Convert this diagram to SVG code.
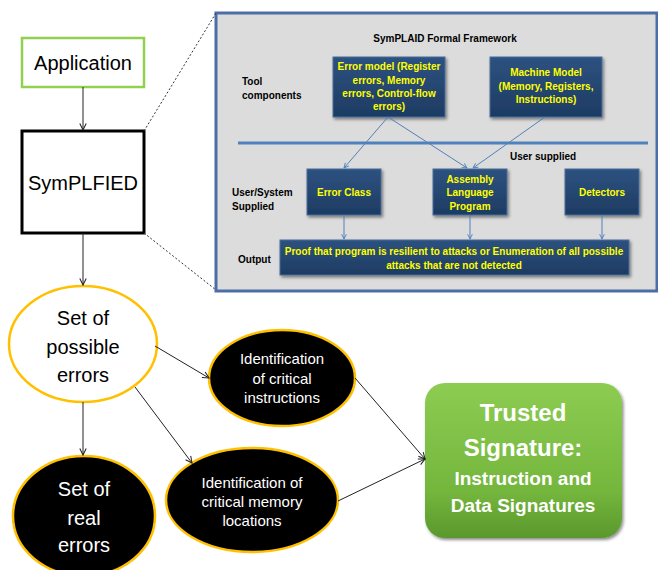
<svg xmlns="http://www.w3.org/2000/svg" width="658" height="570" viewBox="0 0 658 570">
<defs>
<style>
.pt{font-family:"Liberation Sans",Arial,sans-serif;font-weight:bold;font-size:10px;fill:#ffff00;text-anchor:middle}
.lb{font-family:"Liberation Sans",Arial,sans-serif;font-weight:bold;font-size:10px;fill:#000}
.big{font-family:"Liberation Sans",Arial,sans-serif;font-size:20px;text-anchor:middle}
.mid{font-family:"Liberation Sans",Arial,sans-serif;font-size:15px;fill:#fff;text-anchor:middle}
.tr{font-family:"Liberation Sans",Arial,sans-serif;font-weight:bold;fill:#fff;text-anchor:middle}
.box{fill:url(#navy);stroke:#4a6d99;stroke-width:1;filter:url(#sh)}
.bl{stroke:#4f81bd;stroke-width:1;fill:none;marker-end:url(#ab)}
.k{stroke:#222;stroke-width:1;fill:none;marker-end:url(#ak)}
</style>
<linearGradient id="navy" x1="0" y1="0" x2="0" y2="1">
<stop offset="0" stop-color="#2d5280"/><stop offset="1" stop-color="#1d3b62"/>
</linearGradient>
<linearGradient id="grn" x1="0" y1="0" x2="0" y2="1">
<stop offset="0" stop-color="#8dcc52"/><stop offset="0.7" stop-color="#74b63d"/><stop offset="1" stop-color="#5a982c"/>
</linearGradient>
<filter id="sh" x="-10%" y="-10%" width="130%" height="140%">
<feDropShadow dx="1.5" dy="2" stdDeviation="1.5" flood-color="#000" flood-opacity="0.45"/>
</filter>
<marker id="ab" viewBox="0 0 10 10" refX="9" refY="5" markerWidth="6" markerHeight="6" orient="auto" markerUnits="userSpaceOnUse">
<path d="M1,1 L9,5 L1,9" fill="none" stroke="#4f81bd" stroke-width="1.5"/>
</marker>
<marker id="ak" viewBox="0 0 10 10" refX="9" refY="5" markerWidth="8" markerHeight="8" orient="auto" markerUnits="userSpaceOnUse">
<path d="M1,1 L9,5 L1,9" fill="none" stroke="#222" stroke-width="1.3"/>
</marker>
</defs>
<rect width="658" height="570" fill="#fff"/>

<g id="framework">
<rect x="216" y="13" width="441" height="278" fill="#dcdcdc" stroke="#4a6ea5" stroke-width="3"/>
<text class="lb" x="445" y="42" text-anchor="middle" font-size="11">SymPLAID Formal Framework</text>
<text class="lb" x="242" y="85">Tool</text>
<text class="lb" x="242" y="99">components</text>
<text class="lb" x="510" y="160">User supplied</text>
<text class="lb" x="232" y="196">User/System</text>
<text class="lb" x="232" y="210">Supplied</text>
<text class="lb" x="238" y="263">Output</text>
<line x1="238" y1="143" x2="648" y2="143" stroke="#4f81bd" stroke-width="3"/>
</g>

<g id="error-model">
<rect class="box" x="333" y="57" width="112" height="60"/>
<text class="pt" x="389" y="70">Error model (Register</text>
<text class="pt" x="389" y="84">errors, Memory</text>
<text class="pt" x="389" y="97">errors, Control-flow</text>
<text class="pt" x="389" y="110">errors)</text>
</g>
<g id="machine-model">
<rect class="box" x="490" y="57" width="112" height="60"/>
<text class="pt" x="546" y="76">Machine Model</text>
<text class="pt" x="546" y="90">(Memory, Registers,</text>
<text class="pt" x="546" y="103">Instructions)</text>
</g>
<g id="error-class">
<rect class="box" x="307" y="169" width="74" height="46"/>
<text class="pt" x="344" y="196">Error Class</text>
</g>
<g id="assembly">
<rect class="box" x="433" y="169" width="74" height="46"/>
<text class="pt" x="470" y="183">Assembly</text>
<text class="pt" x="470" y="196">Language</text>
<text class="pt" x="470" y="210">Program</text>
</g>
<g id="detectors">
<rect class="box" x="565" y="169" width="74" height="46"/>
<text class="pt" x="602" y="196">Detectors</text>
</g>
<g id="output">
<rect class="box" x="280" y="240" width="349" height="35"/>
<text class="pt" x="454" y="255">Proof that program is resilient to attacks or Enumeration of all possible</text>
<text class="pt" x="454" y="269">attacks that are not detected</text>
</g>

<g id="application">
<rect x="22" y="38" width="122" height="49" fill="#fff" stroke="#92d050" stroke-width="2.5"/>
<text class="big" x="83" y="70" font-size="21">Application</text>
</g>
<g id="symplfied">
<rect x="22" y="131" width="122" height="102" fill="#fff" stroke="#000" stroke-width="3"/>
<text class="big" x="83" y="190" font-size="19">SymPLFIED</text>
</g>
<g id="possible-errors">
<ellipse cx="83" cy="344" rx="74" ry="58" fill="#fff" stroke="#ffc000" stroke-width="2.5"/>
<text class="big" x="83" y="325">Set of</text>
<text class="big" x="83" y="354">possible</text>
<text class="big" x="83" y="382">errors</text>
</g>
<g id="real-errors">
<ellipse cx="84" cy="516" rx="71" ry="60" fill="#000" stroke="#ffc000" stroke-width="2.5"/>
<text class="big" x="84" y="496" fill="#fff">Set of</text>
<text class="big" x="84" y="525" fill="#fff">real</text>
<text class="big" x="84" y="552" fill="#fff">errors</text>
</g>
<g id="crit-instr">
<ellipse cx="282" cy="378" rx="73" ry="48" fill="#000" stroke="#ffc000" stroke-width="2.5"/>
<text class="mid" x="282" y="364">Identification</text>
<text class="mid" x="282" y="384">of critical</text>
<text class="mid" x="282" y="403">instructions</text>
</g>
<g id="crit-mem">
<ellipse cx="252" cy="500" rx="86" ry="52" fill="#000" stroke="#ffc000" stroke-width="2.5"/>
<text class="mid" x="252" y="488">Identification of</text>
<text class="mid" x="252" y="507">critical memory</text>
<text class="mid" x="252" y="526">locations</text>
</g>
<g id="trusted">
<rect x="425" y="383" width="197" height="155" rx="20" fill="url(#grn)" filter="url(#sh)"/>
<text class="tr" x="523" y="421" font-size="24">Trusted</text>
<text class="tr" x="523" y="456" font-size="24">Signature:</text>
<text class="tr" x="523" y="485" font-size="19">Instruction and</text>
<text class="tr" x="523" y="512" font-size="19">Data Signatures</text>
</g>

<g id="connectors">
<line x1="144" y1="131" x2="216" y2="13" stroke="#333" stroke-width="1" stroke-dasharray="2,2"/>
<line x1="144" y1="233" x2="216" y2="290" stroke="#333" stroke-width="1" stroke-dasharray="2,2"/>
<line class="k" x1="83" y1="87" x2="83" y2="130"/>
<line class="k" x1="83" y1="233" x2="83" y2="285"/>
<line class="k" x1="83" y1="402" x2="83" y2="455"/>
<line class="k" x1="155" y1="346" x2="209" y2="378"/>
<line class="k" x1="135" y1="387" x2="192" y2="463"/>
<line class="k" x1="355" y1="378" x2="425" y2="459"/>
<line class="k" x1="338" y1="501" x2="425" y2="459"/>
<line class="bl" x1="388" y1="117" x2="344" y2="168"/>
<line class="bl" x1="388" y1="117" x2="467" y2="168"/>
<line class="bl" x1="545" y1="117" x2="473" y2="168"/>
<line class="bl" x1="344" y1="215" x2="344" y2="239"/>
<line class="bl" x1="470" y1="215" x2="470" y2="239"/>
<line class="bl" x1="602" y1="215" x2="602" y2="239"/>
</g>
</svg>
